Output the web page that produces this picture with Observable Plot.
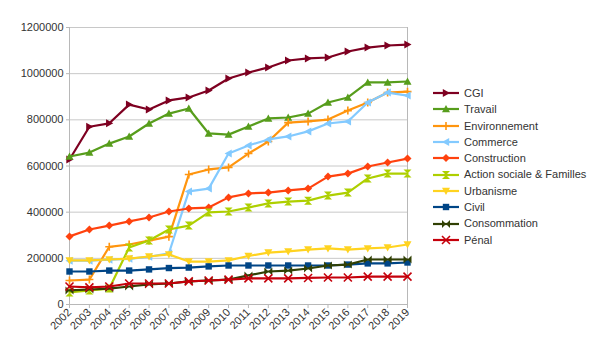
<!DOCTYPE html>
<html><head><meta charset="utf-8">
<script src="https://cdn.jsdelivr.net/npm/d3@7"></script>
<script src="https://cdn.jsdelivr.net/npm/@observablehq/plot@0.6"></script>
<style>
body{margin:0;background:#fff;font-family:"Liberation Sans",Arial,sans-serif;}
#wrap{position:relative;width:599px;height:363px;overflow:hidden;}
#legend{position:absolute;left:433px;top:85px;font-size:11px;color:#333;line-height:16.3px;}
.item{display:flex;align-items:center;height:16.3px;white-space:nowrap;}
.item svg{margin-right:3px;}
</style></head><body><div id="wrap"><div id="chart"></div><div id="legend"></div></div>
<script>
const years = [2002,2003,2004,2005,2006,2007,2008,2009,2010,2011,2012,2013,2014,2015,2016,2017,2018,2019];
const seriesNames = ["CGI","Travail","Environnement","Commerce","Construction","Action sociale & Familles","Urbanisme","Civil","Consommation","Pénal"];
const colors = ["#7e0021","#579d1c","#ff950e","#83caff","#ff420e","#aecf00","#ffd320","#004586","#314004","#c5000b"];
const yTicks = [0,200000,400000,600000,800000,1000000,1200000];

const cgi          = [628000,770000,785000,866000,845000,884000,897000,927000,979000,1005000,1027000,1057000,1066000,1070000,1096000,1113000,1122000,1126000];
const travail      = [641000,658000,697000,728000,784000,827000,849000,741000,736000,771000,806000,810000,827000,875000,897000,962000,962000,966000];
const environnement= [104000,108000,250000,260000,277000,294000,563000,585000,594000,654000,706000,788000,793000,801000,840000,875000,918000,922000];
const commerce     = [190000,190000,194000,198000,207000,222000,490000,502000,654000,689000,715000,728000,750000,784000,793000,875000,918000,905000];
const construction = [295000,325000,342000,360000,377000,403000,416000,420000,464000,481000,485000,494000,502000,554000,567000,598000,615000,632000];
const actionSociale= [52000,61000,69000,247000,277000,325000,342000,399000,403000,420000,438000,446000,450000,472000,485000,546000,567000,567000];
const urbanisme    = [191000,191000,195000,199000,208000,217000,186000,186000,191000,210000,225000,230000,238000,243000,238000,243000,247000,260000];
const civil        = [143000,143000,147000,147000,152000,158000,160000,165000,169000,169000,169000,169000,169000,169000,173000,178000,178000,182000];
const consommation = [61000,65000,69000,78000,87000,91000,100000,104000,108000,126000,143000,147000,156000,169000,173000,195000,195000,195000];
const penal        = [78000,74000,78000,91000,91000,91000,100000,104000,108000,113000,113000,113000,115000,117000,117000,121000,121000,121000];
const seriesValues = [cgi,travail,environnement,commerce,construction,actionSociale,urbanisme,civil,consommation,penal];

const mk = (fn) => ({draw(ctx, size){ const r = Math.sqrt(size/Math.PI); fn(ctx, r); }});
const sym = {
  square: mk((c,r)=>{c.rect(-0.8*r,-0.8*r,1.6*r,1.6*r);}),
  diamond: mk((c,r)=>{c.moveTo(0,-r);c.lineTo(r,0);c.lineTo(0,r);c.lineTo(-r,0);c.closePath();}),
  up: mk((c,r)=>{c.moveTo(0,-r);c.lineTo(r,0.8*r);c.lineTo(-r,0.8*r);c.closePath();}),
  down: mk((c,r)=>{c.moveTo(0,r);c.lineTo(r,-0.8*r);c.lineTo(-r,-0.8*r);c.closePath();}),
  right: mk((c,r)=>{c.moveTo(r,0);c.lineTo(-0.8*r,-r);c.lineTo(-0.8*r,r);c.closePath();}),
  left: mk((c,r)=>{c.moveTo(-r,0);c.lineTo(0.8*r,-r);c.lineTo(0.8*r,r);c.closePath();}),
  bowtie: mk((c,r)=>{c.moveTo(-r,-r);c.lineTo(-r,r);c.lineTo(0,0);c.closePath();c.moveTo(r,-r);c.lineTo(r,r);c.lineTo(0,0);c.closePath();}),
  hourglass: mk((c,r)=>{c.moveTo(-r,-r);c.lineTo(r,-r);c.lineTo(0,0);c.closePath();c.moveTo(-r,r);c.lineTo(r,r);c.lineTo(0,0);c.closePath();}),
  plus: mk((c,r)=>{c.moveTo(-r,0);c.lineTo(r,0);c.moveTo(0,-r);c.lineTo(0,r);}),
  times: mk((c,r)=>{c.moveTo(-r,-r);c.lineTo(r,r);c.moveTo(r,-r);c.lineTo(-r,r);})
};
const symbols = [["right",true],["up",true],["plus",false],["left",true],["diamond",true],["hourglass",true],["down",true],["square",true],["bowtie",true],["times",false]];

const marks = [
  Plot.gridY(yTicks, {stroke:"#c8c8c8", strokeOpacity:1}),
  Plot.ruleX([2002, 2019], {stroke:"#b8b8b8"}),
  Plot.ruleY([0], {stroke:"#b8b8b8"}),
  Plot.axisY({ticks:yTicks, tickFormat:d=>String(d), tickSize:3, tickPadding:3, stroke:"#b8b8b8", fill:"#333", fontSize:11, label:null}),
  Plot.axisX({ticks:years, tickFormat:d=>String(d), tickRotate:-45, tickSize:4, tickPadding:2, stroke:"#b8b8b8", fill:"#333", fontSize:11, label:null})
];
seriesValues.forEach((vals, i) => {
  const data = years.map((y, j) => ({year:y, value:vals[j]}));
  marks.push(Plot.line(data, {x:"year", y:"value", stroke:colors[i], strokeWidth:2.2}));
  const [s, filled] = symbols[i];
  marks.push(Plot.dot(data, {x:"year", y:"value", r:4, symbol:sym[s],
    fill: filled ? colors[i] : "none", stroke: filled ? "none" : colors[i], strokeWidth: filled ? 0 : 1.6}));
});

const chart = Plot.plot({
  width:599, height:363,
  marginLeft:69, marginRight:192, marginTop:27, marginBottom:59,
  style:{fontFamily:"Liberation Sans, Arial, sans-serif", fontSize:"11px", background:"#fff"},
  x:{type:"linear", domain:[2002,2019]},
  y:{domain:[0,1200000]},
  marks
});
document.getElementById("chart").appendChild(chart);

// legend
const legend = document.getElementById("legend");
seriesNames.forEach((name, i) => {
  const item = document.createElement("div");
  item.className = "item";
  const [s, filled] = symbols[i];
  const p = d3.path();
  sym[s].draw(p, 16*Math.PI);
  item.innerHTML = `<svg width="28" height="12" viewBox="0 0 28 12"><line x1="0" x2="26" y1="6" y2="6" stroke="${colors[i]}" stroke-width="2.2"/><path transform="translate(13,6)" d="${p.toString()}" fill="${filled?colors[i]:'none'}" stroke="${filled?'none':colors[i]}" stroke-width="1.6"/></svg><span>${name}</span>`;
  legend.appendChild(item);
});
</script></body></html>
